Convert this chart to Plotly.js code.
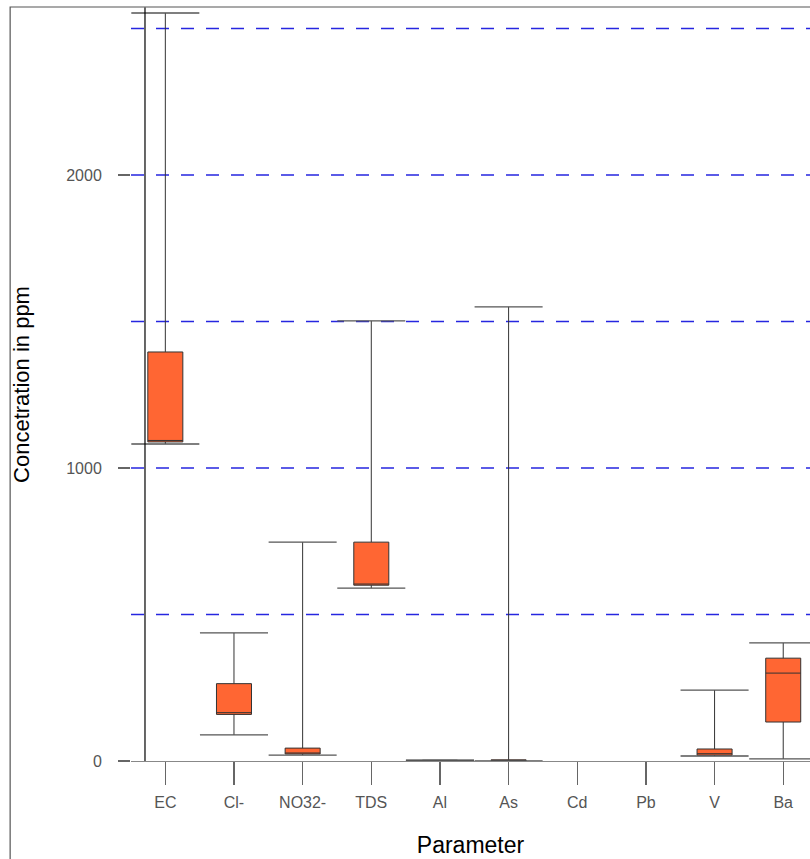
<!DOCTYPE html>
<html>
<head>
<meta charset="utf-8">
<script src="https://cdn.plot.ly/plotly-3.0.1.min.js"></script>
<style>
html, body { margin: 0; padding: 0; background: #fff; overflow: hidden; }
#chart { width: 810px; height: 859px; }
</style>
</head>
<body>
<div id="chart"></div>
<script>
// ---- data ----
const categories = ['EC', 'Cl-', 'NO32-', 'TDS', 'Al', 'As', 'Cd', 'Pb', 'V', 'Ba'];
const lowerWhisker = [1082, 89, 20, 590, 2, 0, null, null, 17, 7];
const q1Values     = [1089, 159, 24, 600, 2, 1, null, null, 20, 133];
const medianValues = [1094, 165, 26, 604, 2, 2, null, null, 25, 300];
const q3Values     = [1396, 264, 44, 747, 2, 4, null, null, 41, 351];
const upperWhisker = [2553, 437, 747, 1502, 3, 1550, null, null, 242, 403];
const yTickValues = [0, 1000, 2000];
const gridValues = [500, 1000, 1500, 2000, 2500];

// keep only categories that have data
const idx = categories.map((c, i) => i).filter(i => q1Values[i] !== null);
const pick = arr => idx.map(i => arr[i]);

const boxTrace = {
  type: 'box',
  x: pick(categories),
  lowerfence: pick(lowerWhisker),
  q1: pick(q1Values),
  median: pick(medianValues),
  q3: pick(q3Values),
  upperfence: pick(upperWhisker),
  fillcolor: '#FF6633',
  line: { color: '#333333', width: 1 },
  whiskerwidth: 0,
  width: 0.51,
  boxpoints: false,
  hoverinfo: 'skip',
  showlegend: false
};

const capTrace = {
  type: 'scatter',
  mode: 'markers',
  x: pick(categories).concat(pick(categories)),
  y: pick(lowerWhisker).concat(pick(upperWhisker)),
  marker: { symbol: 'line-ew', size: 48.6, color: '#555555', line: { color: '#555555', width: 1.3 } },
  hoverinfo: 'skip',
  showlegend: false,
  cliponaxis: false
};

const shapes = gridValues.map(v => ({
  type: 'line', xref: 'paper', yref: 'y', x0: 0, x1: 1, y0: v, y1: v,
  line: { color: '#2626E0', width: 1.3, dash: '13px,12px' }, layer: 'below'
}));
// vertical axis line and outer frame
shapes.push({
  type: 'line', xref: 'paper', yref: 'paper', x0: 0.0206, x1: 0.0206, y0: 0, y1: 1.001,
  line: { color: '#000000', width: 1.2 }
});
shapes.push({
  type: 'rect', xref: 'paper', yref: 'paper', x0: -0.178, x1: 1.05, y0: -0.3, y1: 1.0013,
  line: { color: '#555555', width: 1.2 }, fillcolor: 'rgba(0,0,0,0)'
});

const layout = {
  width: 810, height: 859,
  margin: { l: 131, r: 0, t: 8, b: 98, pad: 0 },
  paper_bgcolor: '#ffffff', plot_bgcolor: '#ffffff',
  font: { family: 'Liberation Sans, Arial, sans-serif', color: '#444444' },
  showlegend: false,
  xaxis: {
    type: 'category',
    categoryorder: 'array',
    categoryarray: categories,
    range: [-0.5, 9.39],
    showline: true, linecolor: '#888888', linewidth: 1.3,
    ticks: 'outside', ticklen: 23, tickcolor: '#666666', tickwidth: 1.3,
    tickfont: { size: 16, color: '#555555' },
    ticklabelstandoff: 3,
    showgrid: false, zeroline: false,
    title: { text: 'Parameter', font: { size: 23, color: '#000000' }, standoff: 27 },
    automargin: false
  },
  yaxis: {
    range: [0, 2570],
    showline: false,
    ticks: 'outside', ticklen: 12, tickcolor: '#666666', tickwidth: 1.3,
    tickvals: yTickValues,
    ticktext: yTickValues.map(String),
    tickfont: { size: 16, color: '#555555' },
    ticklabelstandoff: 13,
    showgrid: false, zeroline: false,
    title: { text: 'Concetration in ppm', font: { size: 22, color: '#000000' }, standoff: 30 },
    automargin: false
  },
  shapes: shapes
};

Plotly.newPlot('chart', [boxTrace, capTrace], layout, { displayModeBar: false, staticPlot: true });
</script>
</body>
</html>
